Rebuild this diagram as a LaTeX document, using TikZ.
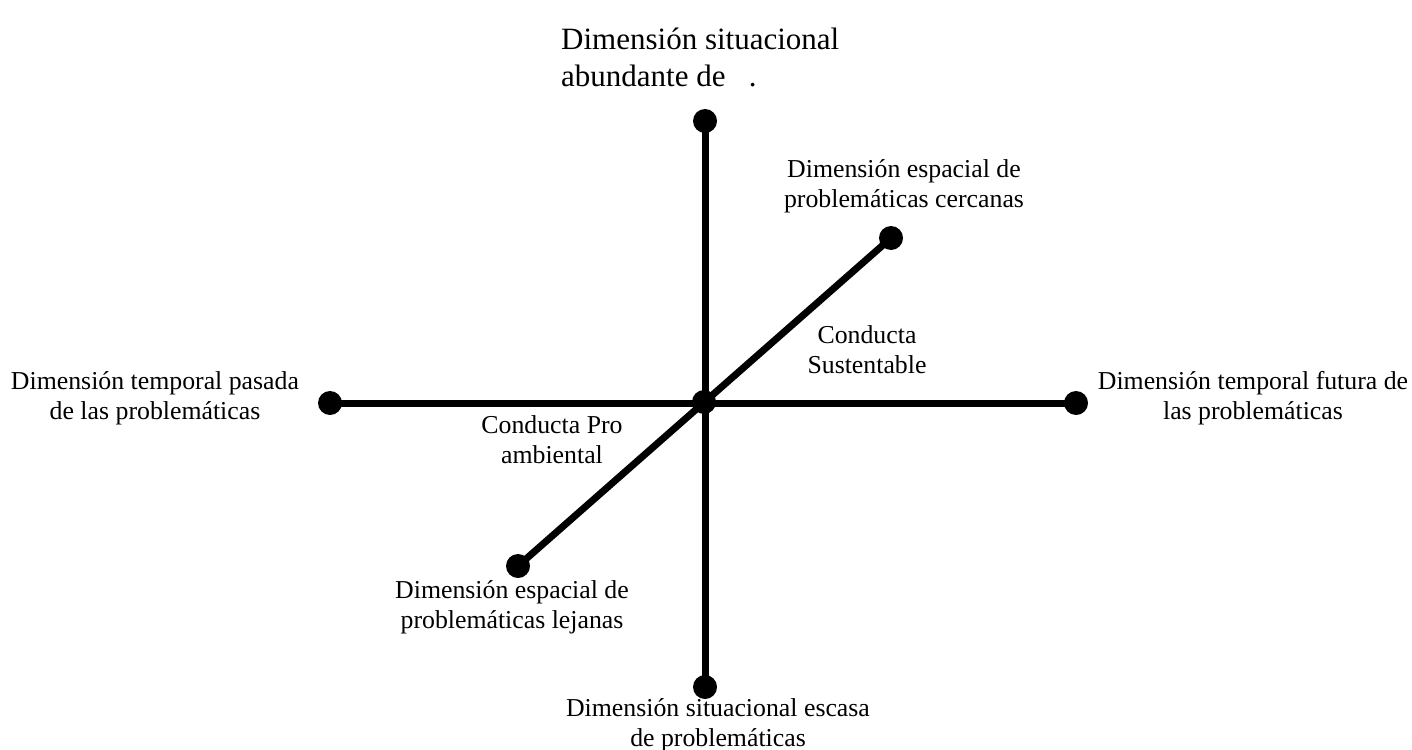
\documentclass[tikz,border=0pt]{standalone}
\usepackage{fontspec}
\setmainfont{Liberation Serif}
\begin{document}
\begin{tikzpicture}[x=1pt,y=-1pt,
  dot/.style={circle,fill=black,inner sep=0pt,minimum size=24pt},
  axis/.style={line width=7pt,black},
  lbl/.style={align=center,font=\fontsize{25.8}{30}\selectfont,inner sep=0pt},
  toplbl/.style={align=left,font=\fontsize{31}{37}\selectfont,inner sep=0pt}]
\useasboundingbox (0,0) rectangle (1412,749);
\node[dot] (c) at (704,402) {};
\node[dot] (t) at (705,121) {};
\node[dot] (b) at (705,687) {};
\node[dot] (l) at (330,403) {};
\node[dot] (r) at (1076,403) {};
\node[dot] (ur) at (891,238) {};
\node[dot] (ll) at (518,566) {};
\draw[axis] (t.center) -- (b.center);
\draw[axis] (l.center) -- (r.center);
\draw[axis] (ll.center) -- (ur.center);
\node[toplbl,anchor=north west] (tl) at (561,28) {Dimensión situacional\\abundante de \ \ .};
\node[lbl] (urlbl) at (904,186) {Dimensión espacial de\\problemáticas cercanas};
\node[lbl] (cs) at (867,350) {Conducta\\Sustentable};
\node[lbl] (llbl) at (155,398) {Dimensión temporal pasada\\de las problemáticas};
\node[lbl] (rlbl) at (1253,398) {Dimensión temporal futura de\\las problemáticas};
\node[lbl] (cp) at (552,440) {Conducta Pro\\ambiental};
\node[lbl] (lllbl) at (512,607) {Dimensión espacial de\\problemáticas lejanas};
\node[lbl] (blbl) at (718,725) {Dimensión situacional escasa\\de problemáticas};
\end{tikzpicture}
\end{document}
